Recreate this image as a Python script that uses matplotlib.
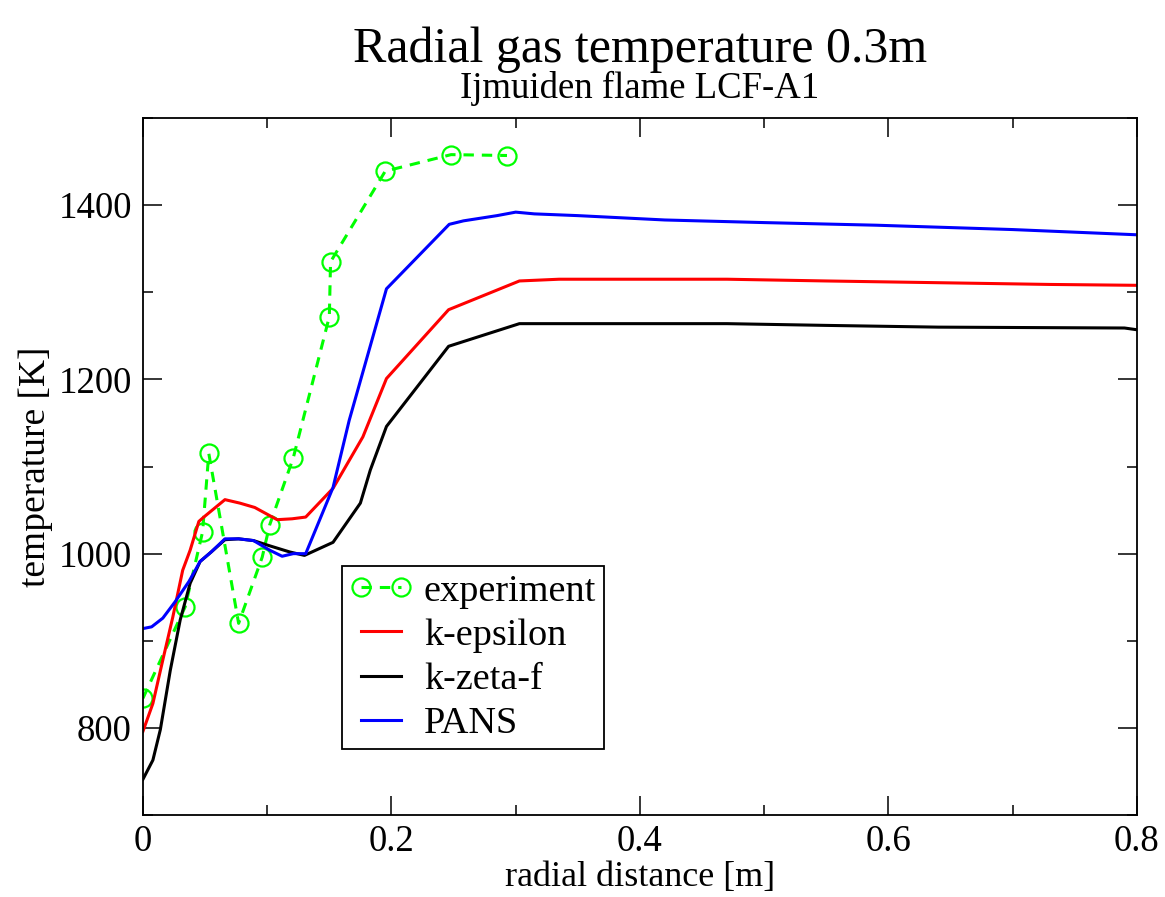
import matplotlib
matplotlib.use("Agg")
import matplotlib.pyplot as plt
from matplotlib.ticker import MultipleLocator, FormatStrFormatter

plt.rcParams['font.family'] = ['Liberation Serif', 'DejaVu Serif']

# measured gas temperature
x_exp = [0.000, 0.034, 0.048, 0.053, 0.077, 0.096, 0.102, 0.121, 0.150, 0.151, 0.195, 0.248, 0.293]
T_exp = [834, 939, 1025, 1115, 920, 996, 1033, 1110, 1272, 1335, 1439, 1458, 1457]

# k-epsilon model
x_ke = [0.000, 0.008, 0.016, 0.024, 0.032, 0.038, 0.045, 0.049, 0.066, 0.078, 0.090, 0.108,
        0.120, 0.131, 0.153, 0.177, 0.196, 0.246, 0.303, 0.335, 0.470, 0.550, 0.640, 0.730, 0.800]
T_ke = [796, 828, 878, 927, 981, 1004, 1037, 1042, 1062, 1058, 1053, 1039,
        1040, 1042, 1075, 1134, 1201, 1280, 1313, 1315, 1315, 1313, 1311, 1309, 1308]

# k-zeta-f model
x_kz = [0.000, 0.008, 0.014, 0.022, 0.030, 0.038, 0.046, 0.055, 0.066, 0.077, 0.089, 0.102,
        0.118, 0.130, 0.153, 0.175, 0.183, 0.196, 0.246, 0.303, 0.470, 0.550, 0.640, 0.790, 0.800]
T_kz = [741, 763, 798, 866, 924, 966, 991, 1002, 1016, 1017, 1015, 1009,
        1002, 998, 1013, 1058, 1096, 1146, 1238, 1264, 1264, 1262, 1260, 1259, 1257]

# PANS model
x_pans = [0.000, 0.007, 0.016, 0.026, 0.037, 0.046, 0.055, 0.066, 0.077, 0.089, 0.102, 0.112,
          0.121, 0.131, 0.153, 0.166, 0.196, 0.2465, 0.258, 0.285, 0.300, 0.315, 0.350, 0.420,
          0.500, 0.590, 0.700, 0.800]
T_pans = [914, 916, 926, 945, 968, 991, 1002, 1017, 1017, 1015, 1004, 997,
          1000, 1000, 1076, 1153, 1304, 1378, 1382, 1388, 1392, 1390, 1388, 1383,
          1380, 1377, 1372, 1366]

fig = plt.figure(figsize=(11.65, 8.97), dpi=100)
ax = fig.add_axes([0.1227, 0.0914, 0.8532, 0.777])

lw = 2.2
ax.plot(x_exp, T_exp, color='#00ff00', lw=lw, dashes=(3.4, 2.6),
        marker='o', markersize=13, markerfacecolor='none',
        markeredgecolor='#00ff00', markeredgewidth=1.6, label='experiment')
ax.plot(x_ke, T_ke, color='#ff0000', lw=lw, label='k-epsilon')
ax.plot(x_kz, T_kz, color='black', lw=lw, label='k-zeta-f')
ax.plot(x_pans, T_pans, color='#0000ff', lw=lw, label='PANS')

ax.set_xlim(0, 0.8)
ax.set_ylim(700, 1500)
ax.xaxis.set_major_locator(MultipleLocator(0.2))
ax.xaxis.set_minor_locator(MultipleLocator(0.1))
ax.yaxis.set_major_locator(MultipleLocator(200))
ax.yaxis.set_minor_locator(MultipleLocator(100))
ax.xaxis.set_major_formatter(FormatStrFormatter('%g'))
ax.set_yticks([800, 1000, 1200, 1400])

ax.tick_params(which='both', direction='in', top=True, right=True, width=1.1,
               labelsize=26.5)
ax.tick_params(which='major', length=14)
ax.tick_params(which='minor', length=7)
ax.tick_params(axis='y', pad=8)
ax.tick_params(axis='x', pad=7)
for s in ax.spines.values():
    s.set_linewidth(1.3)

ax.set_ylabel('temperature [K]', fontsize=27, labelpad=4)
# x label placed in figure coordinates so it sits close under the tick labels
fig.text(0.5494, 0.012, 'radial distance [m]', fontsize=26,
         ha='center', va='baseline')

fig.text(0.5494, 0.931, 'Radial gas temperature 0.3m', fontsize=36,
         ha='center', va='baseline')
fig.text(0.5494, 0.891, 'Ijmuiden flame LCF-A1', fontsize=26.5,
         ha='center', va='baseline')

leg = ax.legend(loc='upper left', bbox_to_anchor=(0.2, 0.357), borderaxespad=0,
                fontsize=27.5, numpoints=2, handlelength=1.66, handletextpad=0.29,
                labelspacing=0.25, borderpad=0.2, fancybox=False, framealpha=1)
leg.get_frame().set_edgecolor('black')
leg.get_frame().set_linewidth(1.3)

fig.savefig('out.png', dpi=100)
